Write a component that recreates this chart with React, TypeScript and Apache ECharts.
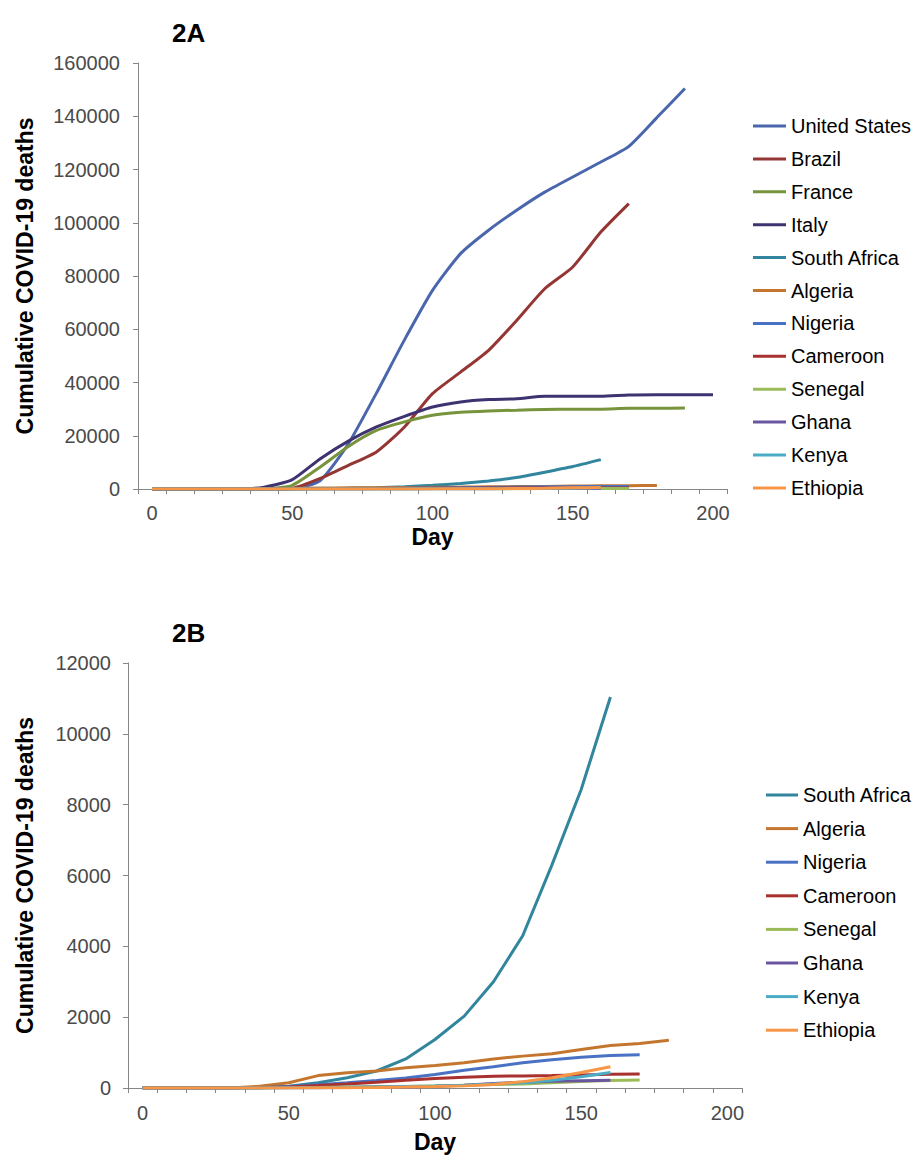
import React, { useEffect, useRef } from "react";
import * as echarts from "echarts";

// Day categories (every 10 days)
const days = ["0", "10", "20", "30", "40", "50", "60", "70", "80", "90", "100", "110", "120", "130", "140", "150", "160", "170", "180", "190", "200"];

// Cumulative COVID-19 deaths
const unitedStates = [0, 0, 0, 0, 10, 100, 3200, 17000, 36000, 56000, 74600, 88400, 97200, 104700, 111500, 117200, 122800, 128700, 139500, 150400];
const brazil = [0, 0, 0, 0, 0, 300, 4000, 8900, 13900, 23300, 35800, 43900, 52100, 63300, 75200, 83400, 96500, 107200];
const france = [0, 0, 0, 0, 50, 1400, 8300, 16000, 22000, 25200, 27700, 28800, 29300, 29600, 29900, 30000, 30000, 30300, 30300, 30400];
const italy = [0, 0, 0, 0, 700, 3500, 11400, 18000, 23300, 27300, 30800, 32700, 33600, 33900, 34800, 34800, 34800, 35300, 35400, 35400, 35400];
const southAfrica = [0, 0, 0, 0, 5, 50, 150, 290, 480, 820, 1370, 2030, 3000, 4300, 6300, 8430, 11040];
const algeria = [0, 0, 0, 0, 50, 150, 350, 430, 480, 570, 635, 710, 820, 900, 970, 1090, 1200, 1255, 1350];
const nigeria = [0, 0, 0, 0, 10, 40, 90, 145, 210, 285, 380, 500, 600, 710, 800, 870, 920, 940];
const cameroon = [0, 0, 0, 0, 5, 30, 70, 115, 165, 220, 270, 305, 335, 340, 350, 370, 390, 395];
const senegal = [0, 0, 0, 0, 0, 5, 15, 25, 33, 40, 60, 80, 100, 115, 145, 180, 215, 225];
const ghana = [0, 0, 0, 0, 0, 5, 10, 15, 25, 30, 50, 80, 130, 165, 190, 205, 220];
const kenya = [0, 0, 0, 0, 0, 5, 10, 20, 30, 45, 60, 80, 110, 150, 220, 320, 440];
const ethiopia = [0, 0, 0, 0, 0, 2, 5, 8, 15, 25, 40, 60, 100, 180, 290, 440, 600];

const countriesA = ["United States", "Brazil", "France", "Italy", "South Africa", "Algeria", "Nigeria", "Cameroon", "Senegal", "Ghana", "Kenya", "Ethiopia"];
const countriesB = ["South Africa", "Algeria", "Nigeria", "Cameroon", "Senegal", "Ghana", "Kenya", "Ethiopia"];

const dataByCountry: Record<string, number[]> = {
  "United States": unitedStates,
  Brazil: brazil,
  France: france,
  Italy: italy,
  "South Africa": southAfrica,
  Algeria: algeria,
  Nigeria: nigeria,
  Cameroon: cameroon,
  Senegal: senegal,
  Ghana: ghana,
  Kenya: kenya,
  Ethiopia: ethiopia,
};

const colorByCountry: Record<string, string> = {
  "United States": "#4A67AD",
  Brazil: "#943634",
  France: "#77933C",
  Italy: "#3F3270",
  "South Africa": "#31859C",
  Algeria: "#C4762F",
  Nigeria: "#4A72C4",
  Cameroon: "#A8302E",
  Senegal: "#9BBB59",
  Ghana: "#6A55A0",
  Kenya: "#4BACC6",
  Ethiopia: "#F79646",
};

const FONT = "'Liberation Sans', Arial, sans-serif";
const AXIS_GRAY = "#868686";
const LABEL_GRAY = "#4a4a4a";

export default function App() {
  const ref = useRef<HTMLDivElement>(null);

  useEffect(() => {
    if (!ref.current) return;
    const chart = echarts.init(ref.current, undefined, { renderer: "svg" });

    const makeSeries = (names: string[], idx: number, smooth: number | boolean) =>
      names.map((n) => ({
        type: "line",
        name: n,
        xAxisIndex: idx,
        yAxisIndex: idx,
        data: dataByCountry[n],
        symbol: "none",
        showSymbol: false,
        smooth,
        lineStyle: { width: 3, color: colorByCountry[n] },
        itemStyle: { color: colorByCountry[n] },
        z: 2,
      }));

    const xAxisBase = (idx: number, margin: number, nameGap: number) => ({
      type: "category",
      gridIndex: idx,
      data: days,
      boundaryGap: true,
      name: "Day",
      nameLocation: "middle",
      nameGap,
      nameMoveOverlap: false,
      nameTextStyle: { fontFamily: FONT, fontSize: 23, lineHeight: 23, fontWeight: "bold", color: "#000" },
      axisLine: { show: true, lineStyle: { color: AXIS_GRAY, width: 1 } },
      axisTick: { show: true, interval: 0, length: 5, lineStyle: { color: AXIS_GRAY } },
      axisLabel: { interval: 4, margin, fontFamily: FONT, fontSize: 20, lineHeight: 20, color: LABEL_GRAY },
      splitLine: { show: false },
    });

    const yAxisBase = (idx: number, max: number, interval: number, margin: number, nameGap: number) => ({
      type: "value",
      gridIndex: idx,
      min: 0,
      max,
      interval,
      name: "Cumulative COVID-19 deaths",
      nameLocation: "middle",
      nameGap,
      nameTextStyle: { fontFamily: FONT, fontSize: 23, fontWeight: "bold", color: "#000" },
      axisLine: { show: true, lineStyle: { color: AXIS_GRAY, width: 1 } },
      axisTick: { show: true, length: 5, lineStyle: { color: AXIS_GRAY } },
      axisLabel: {
        margin,
        fontFamily: FONT,
        fontSize: 20,
        color: LABEL_GRAY,
        formatter: (v: number) => String(v),
      },
      splitLine: { show: false },
    });

    const legendBase = (names: string[], left: number, top: number, w: number, gap: number) => ({
      orient: "vertical",
      left,
      top,
      padding: 0,
      data: names,
      icon: "rect",
      itemWidth: w,
      itemHeight: 3,
      itemGap: gap,
      selectedMode: false,
      textStyle: { fontFamily: FONT, fontSize: 20, color: "#000", lineHeight: 20 },
    });

    chart.setOption({
      animation: false,
      backgroundColor: "#ffffff",
      grid: [
        { left: 138, top: 63, width: 589, height: 426 },
        { left: 128, top: 663, width: 614, height: 425 },
      ],
      xAxis: [xAxisBase(0, 14, 36), xAxisBase(1, 15, 42)],
      yAxis: [yAxisBase(0, 160000, 20000, 18, 102), yAxisBase(1, 12000, 2000, 17, 92)],
      legend: [
        legendBase(countriesA, 753, 116, 33, 12.9),
        legendBase(countriesB, 766, 785, 32, 13.6),
      ],
      graphic: [
        {
          type: "text",
          left: 172,
          top: 20,
          style: { text: "2A", fontFamily: FONT, fontSize: 26, fontWeight: "bold", fill: "#000" },
        },
        {
          type: "text",
          left: 172,
          top: 620,
          style: { text: "2B", fontFamily: FONT, fontSize: 26, fontWeight: "bold", fill: "#000" },
        },
      ],
      series: [...makeSeries(countriesA, 0, 0.2), ...makeSeries(countriesB, 1, false)],
    });

    return () => {
      chart.dispose();
    };
  }, []);

  return (
    <div
      ref={ref}
      style={{ position: "absolute", left: 0, top: 0, width: 919, height: 1157, background: "#fff" }}
    />
  );
}
